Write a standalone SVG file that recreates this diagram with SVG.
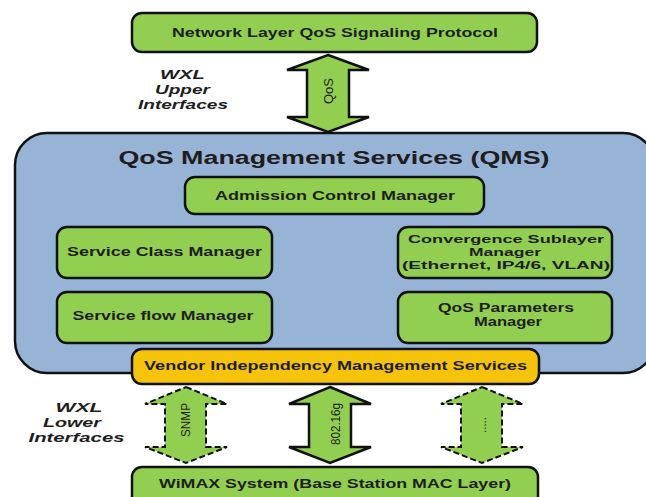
<svg xmlns="http://www.w3.org/2000/svg" width="646" height="497" viewBox="0 0 646 497">
  <style>
    .box { fill: #92cf50; stroke: #111; stroke-width: 2.5; }
    .qms { fill: #97b3d6; stroke: #111; stroke-width: 2.5; }
    .vendor { fill: #f4c30a; stroke: #111; stroke-width: 2.5; }
    .arrow { fill: #92cf50; stroke: #111; stroke-width: 2.5; stroke-linejoin: miter; }
    .dashed { fill: #92cf50; stroke: #111; stroke-width: 2; stroke-dasharray: 6 3; }
    text { font-family: "Liberation Sans", Arial, sans-serif; fill: #1e1e1e; text-anchor: middle; }
    .lbl { font-size: 12px; font-weight: bold; }
    .small { font-size: 11px; font-weight: bold; }
    .title { font-size: 18px; font-weight: bold; }
    .side { font-size: 13px; font-weight: bold; font-style: italic; }
    .vert { font-size: 12px; }
  </style>

  <rect width="646" height="497" fill="#ffffff"/>

  <!-- QoS Management Services container -->
  <g id="qms">
    <rect class="qms" x="15" y="133" width="640" height="240" rx="32" ry="32"/>
    <text class="title" x="334" y="164" textLength="431" lengthAdjust="spacingAndGlyphs">QoS Management Services (QMS)</text>
  </g>

  <g id="network-layer">
    <rect class="box" x="132" y="13" width="405" height="39" rx="10" ry="10"/>
    <text class="lbl" x="335" y="37" font-size="13" textLength="326" lengthAdjust="spacingAndGlyphs">Network Layer QoS Signaling Protocol</text>
  </g>

  <g id="admission">
    <rect class="box" x="185" y="177" width="299" height="37" rx="10" ry="10"/>
    <text class="lbl" x="335" y="200" textLength="240" lengthAdjust="spacingAndGlyphs">Admission Control Manager</text>
  </g>

  <g id="service-class">
    <rect class="box" x="57" y="227" width="215" height="51" rx="10" ry="10"/>
    <text class="lbl" x="164.5" y="256" textLength="195" lengthAdjust="spacingAndGlyphs">Service Class Manager</text>
  </g>

  <g id="convergence">
    <rect class="box" x="398" y="227" width="214" height="51" rx="10" ry="10"/>
    <text class="small" x="506" y="243" textLength="196" lengthAdjust="spacingAndGlyphs">Convergence Sublayer</text>
    <text class="small" x="505" y="256" textLength="72" lengthAdjust="spacingAndGlyphs">Manager</text>
    <text class="small" x="506" y="269" textLength="208" lengthAdjust="spacingAndGlyphs">(Ethernet, IP4/6, VLAN)</text>
  </g>

  <g id="service-flow">
    <rect class="box" x="57" y="292" width="215" height="51" rx="10" ry="10"/>
    <text class="lbl" x="163" y="320" textLength="181" lengthAdjust="spacingAndGlyphs">Service flow Manager</text>
  </g>

  <g id="qos-parameters">
    <rect class="box" x="398" y="292" width="214" height="51" rx="10" ry="10"/>
    <text class="lbl" x="506" y="312" textLength="136" lengthAdjust="spacingAndGlyphs">QoS Parameters</text>
    <text class="lbl" x="508" y="326" textLength="68" lengthAdjust="spacingAndGlyphs">Manager</text>
  </g>

  <g id="vendor">
    <rect class="vendor" x="132" y="349" width="407" height="35" rx="10" ry="10"/>
    <text class="lbl" x="335.5" y="370" textLength="383" lengthAdjust="spacingAndGlyphs">Vendor Independency Management Services</text>
  </g>

  <g id="wimax">
    <rect class="box" x="132" y="467" width="406" height="42" rx="10" ry="10"/>
    <text class="lbl" x="335" y="488" textLength="352" lengthAdjust="spacingAndGlyphs">WiMAX System (Base Station MAC Layer)</text>
  </g>

  <!-- interface captions -->
  <g id="upper-interfaces">
    <text class="side" x="182.5" y="79" textLength="45" lengthAdjust="spacingAndGlyphs">WXL</text>
    <text class="side" x="182.5" y="93.5" textLength="55" lengthAdjust="spacingAndGlyphs">Upper</text>
    <text class="side" x="183" y="108.5" textLength="90" lengthAdjust="spacingAndGlyphs">Interfaces</text>
  </g>
  <g id="lower-interfaces">
    <text class="side" x="79" y="412" textLength="47" lengthAdjust="spacingAndGlyphs">WXL</text>
    <text class="side" x="72" y="427" textLength="58" lengthAdjust="spacingAndGlyphs">Lower</text>
    <text class="side" x="76.5" y="442" textLength="96" lengthAdjust="spacingAndGlyphs">Interfaces</text>
  </g>

  <!-- double-headed interface arrows -->
  <g id="connectors">
    <polygon class="arrow" points="328,55 369,70 349,70 349,117 369,117 328,132 287,117 307,117 307,70 287,70"/>
    <text class="vert" transform="translate(333,91) rotate(-90)" textLength="26" lengthAdjust="spacingAndGlyphs">QoS</text>

    <polygon class="dashed" points="186,387 227,404 206,404 206,447 227,447 186,463 145,447 165,447 165,404 145,404"/>
    <text class="vert" transform="translate(190,420) rotate(-90)" textLength="34" lengthAdjust="spacingAndGlyphs">SNMP</text>

    <polygon class="arrow" points="330,387 371,404 351,404 351,447 371,447 330,463 289,447 309,447 309,404 289,404"/>
    <text class="vert" transform="translate(340,424) rotate(-90)" textLength="42" lengthAdjust="spacingAndGlyphs">802.16g</text>

    <polygon class="dashed" points="482,387 523,404 502,404 502,447 523,447 482,463 441,447 461,447 461,404 441,404"/>
    <text class="vert" transform="translate(486,425) rotate(-90)" textLength="16" lengthAdjust="spacingAndGlyphs">.....</text>
  </g>
</svg>
